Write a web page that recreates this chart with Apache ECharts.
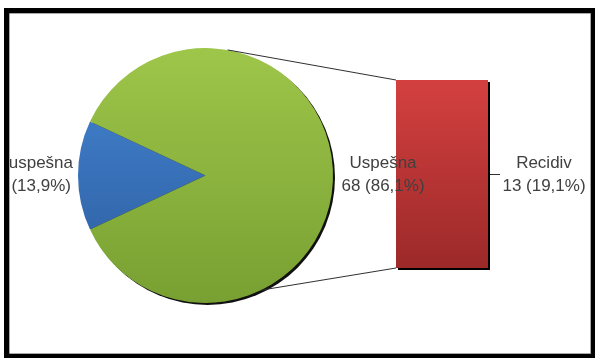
<!DOCTYPE html>
<html>
<head>
<meta charset="utf-8">
<script src="https://cdn.jsdelivr.net/npm/echarts@6/dist/echarts.min.js"></script>
<style>
  html, body { margin: 0; padding: 0; background: #ffffff; }
  #chart { width: 595px; height: 358px; }
</style>
</head>
<body>
<div id="chart"></div>
<script>
// Outcome split: main pie and the breakdown bar of the successful group
const pieCategories = ['Neuspešna', 'Uspešna'];
const pieValues = [11, 68];
const pieShares = ['13,9%', '86,1%'];

const barCategories = ['Recidiv'];
const barValues = [13];
const barShares = ['19,1%'];

const FONT = '"Liberation Sans", Arial, sans-serif';
const TEXT = '#404040';

// Pie geometry
const PCX = 205.5, PCY = 175.5, PR = 127.5;
// Bar panel geometry
const BX = 396, BY = 80, BW = 92, BH = 188;

const pieColors = [
  { type: 'linear', x: 0, y: PCY - PR, x2: 0, y2: PCY + PR, global: true,
    colorStops: [{ offset: 0, color: '#4586d4' }, { offset: 1, color: '#2b5b9c' }] },
  { type: 'linear', x: 0, y: PCY - PR, x2: 0, y2: PCY + PR, global: true,
    colorStops: [{ offset: 0, color: '#9ec64a' }, { offset: 1, color: '#78a032' }] }
];

function pt(deg) {
  const a = deg * Math.PI / 180;
  return [PCX + PR * Math.cos(a), PCY - PR * Math.sin(a)];
}
const topPt = pt(80);
const botPt = pt(-64);

function label(lines, cx, cy) {
  return {
    type: 'text', z: 50,
    style: {
      text: lines.join('\n'), x: cx, y: cy,
      align: 'center', verticalAlign: 'middle',
      font: '17px ' + FONT, fill: TEXT, lineHeight: 23
    }
  };
}

const chart = echarts.init(document.getElementById('chart'), null, { renderer: 'canvas' });

chart.setOption({
  animation: false,
  backgroundColor: '#ffffff',
  grid: { left: BX, top: BY, width: BW, height: BH },
  xAxis: { type: 'category', data: barCategories, show: false },
  yAxis: { type: 'value', min: 0, max: barValues[0], show: false },
  series: [
    {
      // dark rim under the pie
      type: 'pie', silent: true, z: 1,
      center: [PCX + 2, PCY + 2], radius: PR,
      label: { show: false }, labelLine: { show: false },
      itemStyle: { color: '#111111' },
      data: [{ value: 1 }]
    },
    {
      type: 'pie', z: 2,
      center: [PCX, PCY], radius: PR,
      startAngle: 180 + (pieValues[0] / (pieValues[0] + pieValues[1])) * 180,
      clockwise: true,
      label: { show: false }, labelLine: { show: false },
      emphasis: { disabled: true },
      data: pieCategories.map((c, i) => ({
        name: c, value: pieValues[i], itemStyle: { color: pieColors[i] }
      }))
    },
    {
      type: 'bar', z: 2,
      barWidth: '100%',
      data: barValues,
      emphasis: { disabled: true },
      itemStyle: {
        color: { type: 'linear', x: 0, y: 0, x2: 0, y2: 1,
          colorStops: [{ offset: 0, color: '#d44040' }, { offset: 1, color: '#9c2929' }] },
        shadowColor: '#000000', shadowOffsetX: 2, shadowOffsetY: 2, shadowBlur: 0
      }
    }
  ],
  graphic: [
    // frame
    { type: 'rect', z: -10, shape: { x: 4, y: 8, width: 591, height: 350 }, style: { fill: '#000000' } },
    { type: 'rect', z: -9, shape: { x: 9.5, y: 13.5, width: 581, height: 340 },
      style: { fill: '#ffffff', stroke: '#a8a8a8', lineWidth: 1 } },
    // connectors from pie to bar
    { type: 'line', z: 3, shape: { x1: topPt[0], y1: topPt[1], x2: BX, y2: BY },
      style: { stroke: '#303030', lineWidth: 1 } },
    { type: 'line', z: 3, shape: { x1: botPt[0], y1: botPt[1], x2: BX, y2: BY + BH },
      style: { stroke: '#303030', lineWidth: 1 } },
    // leader for the bar label
    { type: 'line', z: 3, shape: { x1: BX + BW + 2, y1: 174.5, x2: BX + BW + 12, y2: 174.5 },
      style: { stroke: '#303030', lineWidth: 1 } },
    label([pieCategories[0], pieValues[0] + ' (' + pieShares[0] + ')'], 30, 175),
    label([pieCategories[1], pieValues[1] + ' (' + pieShares[1] + ')'], 383, 175),
    label([barCategories[0], barValues[0] + ' (' + barShares[0] + ')'], 544, 175),
    // left edge of the frame drawn over the cut-off label
    { type: 'rect', z: 90, shape: { x: 0, y: 0, width: 4, height: 358 }, style: { fill: '#ffffff' } },
    { type: 'rect', z: 90, shape: { x: 4, y: 8, width: 5.5, height: 350 }, style: { fill: '#000000' } },
    { type: 'line', z: 91, shape: { x1: 9.5, y1: 13.5, x2: 9.5, y2: 353.5 },
      style: { stroke: '#a8a8a8', lineWidth: 1 } }
  ]
});
</script>
</body>
</html>
